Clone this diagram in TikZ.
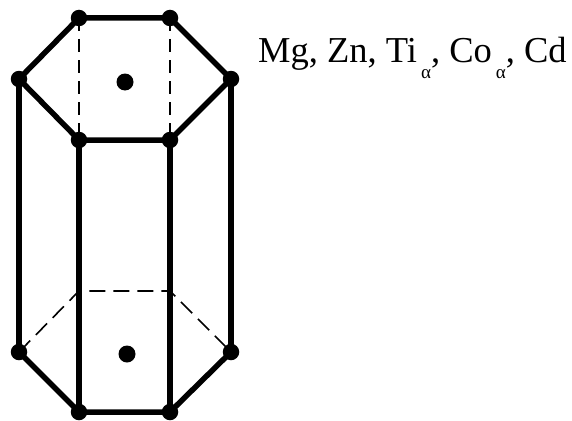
\documentclass[tikz,border=0pt]{standalone}
\usepackage{fontspec}
\setmainfont{Liberation Serif}
\newcommand{\subalpha}{\raisebox{-16pt}{\fontsize{19}{19}\selectfont α}}
\tikzset{
  frame/.style={line width=5.5pt,line cap=round,line join=round},
  hidden/.style={line width=1.6pt,dash pattern=on 16pt off 8pt},
  vhidden/.style={line width=1.6pt,dash pattern=on 13pt off 8pt},
  atom/.style={circle,fill=black,inner sep=0pt,minimum size=16.5pt},
  centeratom/.style={circle,fill=black,inner sep=0pt,minimum size=17pt},
  label/.style={anchor=base west,inner sep=0pt,font=\fontsize{36.5}{40}\selectfont}
}
\begin{document}
\begin{tikzpicture}[x=1pt,y=-1pt]
\useasboundingbox (0,0) rectangle (572,420);
\coordinate (bl) at (79,291);
\coordinate (br) at (170,291);
\node[atom] (t1) at (79,18) {};
\node[atom] (t2) at (170,18) {};
\node[atom] (t3) at (231,79) {};
\node[atom] (t4) at (170,140) {};
\node[atom] (t5) at (79,140) {};
\node[atom] (t6) at (19,79) {};
\node[atom] (b3) at (231,352) {};
\node[atom] (b4) at (170,412) {};
\node[atom] (b5) at (79,412) {};
\node[atom] (b6) at (19,352) {};
\node[centeratom] (c1) at (125,82) {};
\node[centeratom] (c2) at (127,354) {};
\draw[vhidden] (t1.center) -- (t5.center);
\draw[vhidden] (t2.center) -- (t4.center);
\draw[hidden] (b6.center) -- (bl) -- (br) -- (b3.center);
\draw[frame] (t1.center) -- (t2.center) -- (t3.center) -- (t4.center) -- (t5.center) -- (t6.center) -- cycle;
\draw[frame] (b6.center) -- (b5.center) -- (b4.center) -- (b3.center);
\draw[frame] (t6.center) -- (b6.center);
\draw[frame] (t5.center) -- (b5.center);
\draw[frame] (t4.center) -- (b4.center);
\draw[frame] (t3.center) -- (b3.center);
\node[label] (txt) at (258,63) {Mg, Zn, Ti\kern4pt\subalpha, Co\kern4pt\subalpha, Cd};
\end{tikzpicture}
\end{document}
